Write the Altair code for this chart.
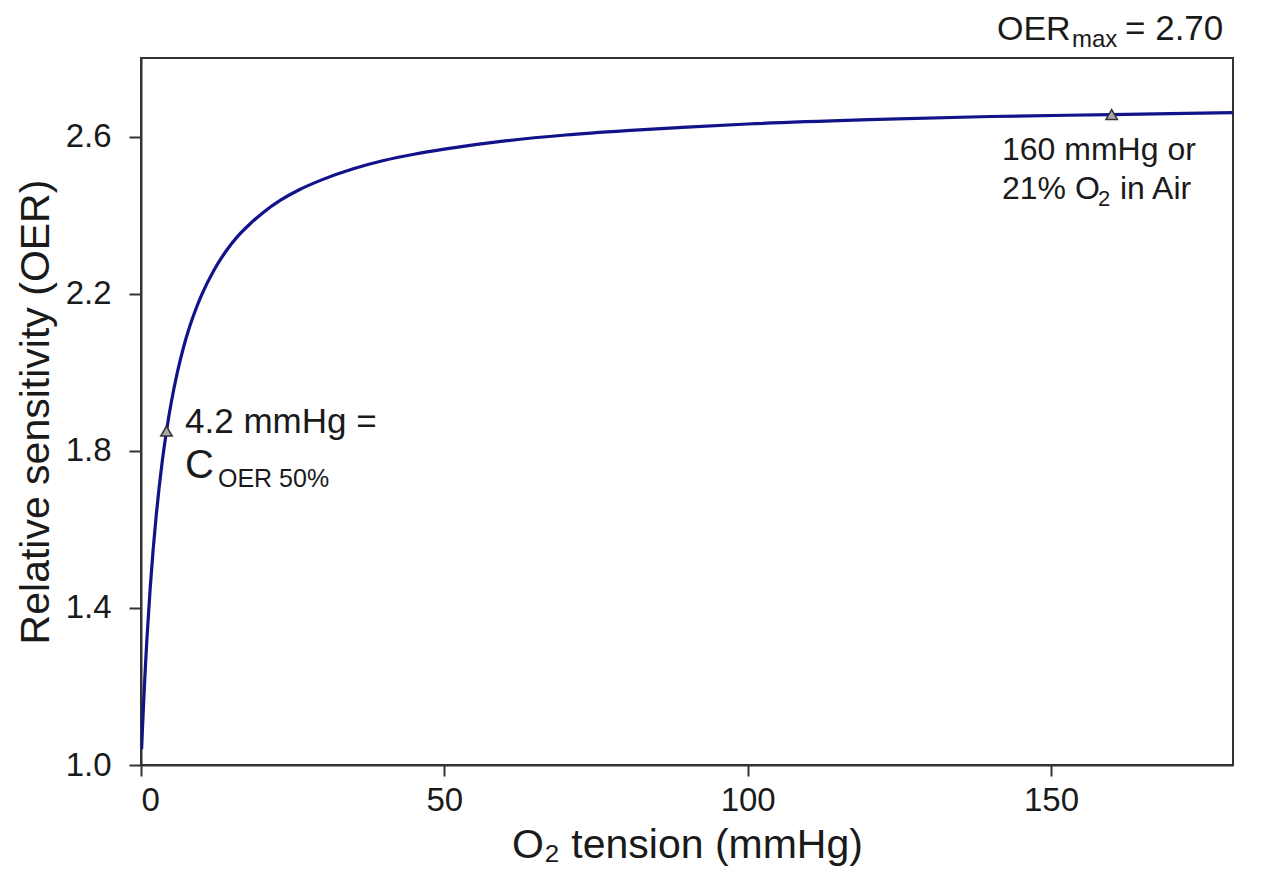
import altair as alt
import pandas as pd

# Curve (O2 tension in mmHg, relative sensitivity OER)
x_tension = [0.1, 0.25, 0.5, 0.75, 1.0, 1.5, 2.0, 2.5, 3.0, 3.5, 4.2, 5.0, 6.0, 7.0, 8.0,
             9.0, 10.0, 12.0, 14.0, 16.0, 18.0, 20.0, 23.0, 26.0, 30.0, 35.0, 40.0, 45.0,
             50.0, 60.0, 70.0, 80.0, 90.0, 100.0, 120.0, 140.0, 160.0, 180.0]
y_oer = [1.04, 1.096, 1.181, 1.258, 1.327, 1.447, 1.548, 1.634, 1.708, 1.773, 1.85, 1.924,
         2.0, 2.063, 2.115, 2.159, 2.197, 2.259, 2.308, 2.347, 2.378, 2.405, 2.438, 2.464,
         2.491, 2.518, 2.539, 2.555, 2.568, 2.589, 2.604, 2.615, 2.624, 2.632, 2.643,
         2.651, 2.656, 2.661]

# Marked points
mark_x = [4.2, 160.0]
mark_y = [1.85, 2.656]

x_ticks = [0, 50, 100, 150]
y_ticks = [1.0, 1.4, 1.8, 2.2, 2.6]

FONT = "Liberation Sans"
TXT = "#1a1a1a"

curve = pd.DataFrame({"x": x_tension, "y": y_oer})
pts = pd.DataFrame({"x": mark_x, "y": mark_y})

xs = alt.Scale(domain=[0, 180], nice=False, zero=False)
ys = alt.Scale(domain=[1.0, 2.8], nice=False, zero=False)

line = alt.Chart(curve).mark_line(color="#12128a", strokeWidth=3.2, clip=True,
                                  interpolate="monotone").encode(
    x=alt.X("x:Q", scale=xs,
            axis=alt.Axis(values=x_ticks, title="O₂ tension (mmHg)", grid=False,
                          labelFontSize=33, titleFontSize=41, labelFont=FONT, titleFont=FONT,
                          labelColor=TXT, titleColor=TXT, titleFontWeight="normal",
                          domainColor="#333333", domainWidth=2, tickColor="#333333",
                          tickWidth=2, tickSize=11, labelPadding=8, titlePadding=8)),
    y=alt.Y("y:Q", scale=ys,
            axis=alt.Axis(values=y_ticks, format=".1f", title="Relative sensitivity (OER)",
                          grid=False, labelFontSize=33, titleFontSize=41, labelFont=FONT,
                          titleFont=FONT, labelColor=TXT, titleColor=TXT,
                          titleFontWeight="normal", domainColor="#333333", domainWidth=2,
                          tickColor="#333333", tickWidth=2, tickSize=12, labelPadding=18,
                          titlePadding=8)),
)

tri = alt.Chart(pts).mark_point(shape="triangle-up", filled=True, fill="#a8a8a8",
                                stroke="#333333", strokeWidth=1.5, size=130, opacity=1).encode(
    x=alt.X("x:Q", scale=xs), y=alt.Y("y:Q", scale=ys))


def txt(text, px, py, size):
    return alt.Chart(pd.DataFrame({"t": [text]})).mark_text(
        align="left", baseline="alphabetic", font=FONT, fontSize=size, color=TXT
    ).encode(text="t:N", x=alt.value(px), y=alt.value(py))


labels = [
    txt("OER", 856, -18, 34),
    txt("max", 931, -11, 24),
    txt("= 2.70", 984, -18, 35),
    txt("4.2 mmHg =", 44, 375, 35),
    txt("C", 44, 420, 40),
    txt("OER 50%", 77, 429, 25),
    txt("160 mmHg or", 861, 102, 32),
    txt("21% O", 861, 141, 32),
    txt("2", 957, 148, 22),
    txt("in Air", 979, 141, 32),
]

chart = alt.layer(line, tri, *labels).properties(
    width=1092, height=707,
    padding={"left": 141, "top": 58, "right": 47, "bottom": 104},
    autosize=alt.AutoSizeParams(type="none"),
    background="white",
).configure_view(stroke="#333333", strokeWidth=2)

chart.save("out.html", embed_options={"renderer": "svg", "actions": False})
